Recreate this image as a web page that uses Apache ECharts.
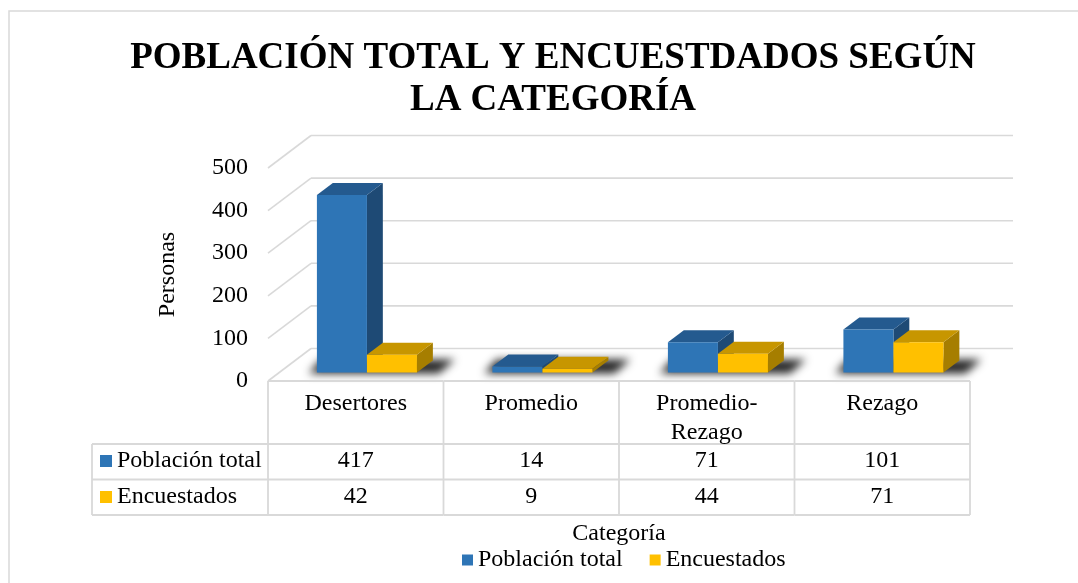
<!DOCTYPE html>
<html>
<head>
<meta charset="utf-8">
<script src="https://cdn.jsdelivr.net/npm/echarts@6/dist/echarts.min.js"></script>
<style>
html,body{margin:0;padding:0;background:#fff;}
#c{width:1078px;height:583px;}
</style>
</head>
<body>
<div id="c"></div>
<script>
const categories = ['Desertores', 'Promedio', 'Promedio-Rezago', 'Rezago'];
const poblacionTotal = [417, 14, 71, 101];
const encuestados = [42, 9, 44, 71];
const yTicks = [0, 100, 200, 300, 400, 500];
const seriesNames = ['Población total', 'Encuestados'];

const FONT = 'Liberation Serif';
const GRID_COLOR = '#D9D9D9';
const DEPTH = { dx: 43, dy: -32.5 };       // full floor depth
const BAR_FRONT = 0.26;                    // fraction of depth where bars start
const BAR_DEPTH = 0.37;                    // fraction of depth taken by bars
const BAR_W = 0.285;                       // bar width as fraction of band
const COLORS = {
  blue: { front: '#2E75B6', top: '#245A8F', side: '#1E4A75' },
  yellow: { front: '#FFC000', top: '#C79600', side: '#A67E00' }
};

const chart = echarts.init(document.getElementById('c'));

function barShape(api, catIdx, value, which, pal) {
  const band = api.size([1, 0])[0];
  const c0 = api.coord([catIdx, 0]);
  const c1 = api.coord([catIdx, value]);
  const ox = DEPTH.dx * BAR_FRONT, oy = DEPTH.dy * BAR_FRONT;
  const bdx = DEPTH.dx * BAR_DEPTH, bdy = DEPTH.dy * BAR_DEPTH;
  const w = band * BAR_W;
  const x0 = c0[0] + ox + (which === 0 ? -w : 0);
  const yB = c0[1] + oy;
  const yT = c1[1] + oy;
  return {
    type: 'group',
    children: [
      { type: 'polygon', shape: { points: [[x0 + w, yT], [x0 + w + bdx, yT + bdy], [x0 + w + bdx, yB + bdy], [x0 + w, yB]] }, style: { fill: pal.side } },
      { type: 'polygon', shape: { points: [[x0, yT], [x0 + w, yT], [x0 + w + bdx, yT + bdy], [x0 + bdx, yT + bdy]] }, style: { fill: pal.top } },
      { type: 'rect', shape: { x: x0, y: yT, width: w, height: yB - yT }, style: { fill: pal.front } }
    ]
  };
}

function shadowShape(api, catIdx) {
  const band = api.size([1, 0])[0];
  const c0 = api.coord([catIdx, 0]);
  const ox = DEPTH.dx * BAR_FRONT, oy = DEPTH.dy * BAR_FRONT;
  const bdx = DEPTH.dx * BAR_DEPTH, bdy = DEPTH.dy * BAR_DEPTH;
  const w = band * BAR_W;
  const xl = c0[0] + ox - w;
  const xr = c0[0] + ox + w;
  const yB = c0[1] + oy;
  const OFF = 3000;
  return {
    type: 'polygon',
    shape: { points: [[xl - 8 - OFF, yB + 1], [xr + bdx + 6 - OFF, yB + 1], [xr + bdx + 22 - OFF, yB + bdy - 1], [xl + 4 - OFF, yB + bdy - 1]] },
    style: { fill: '#000', shadowBlur: 9, shadowColor: 'rgba(0,0,0,0.85)', shadowOffsetX: OFF, shadowOffsetY: 0 }
  };
}

function wallShape(params, api) {
  const v = api.value(1);
  const band = api.size([1, 0])[0];
  const p = api.coord([0, v]);
  const xl = p[0] - band / 2;
  const xr = api.coord([categories.length - 1, v])[0] + band / 2;
  const y = p[1];
  return {
    type: 'group',
    children: [
      { type: 'line', shape: { x1: xl, y1: y, x2: xl + DEPTH.dx, y2: y + DEPTH.dy }, style: { stroke: GRID_COLOR, lineWidth: 1.6 } },
      { type: 'line', shape: { x1: xl + DEPTH.dx, y1: y + DEPTH.dy, x2: xr + DEPTH.dx, y2: y + DEPTH.dy }, style: { stroke: GRID_COLOR, lineWidth: 1.6 } }
    ]
  };
}

function tableShape(params, api) {
  const i = api.value(0);
  const band = api.size([1, 0])[0];
  const c = api.coord([i, 0]);
  const top = c[1];
  const xL = c[0] - band / 2, xR = c[0] + band / 2;
  const rowH = top + 63, row2 = top + 98.5, bottom = top + 134;
  const leftCol = 92;
  const lineStyle = { stroke: GRID_COLOR, lineWidth: 1.8 };
  const txt = (t, x, y, align, va) => ({ type: 'text', style: { text: t, x: x, y: y, align: align || 'center', verticalAlign: va || 'middle', font: '24px "' + FONT + '"', fill: '#000', lineHeight: 29 } });
  const ch = [
    { type: 'line', shape: { x1: xL, y1: top, x2: xR, y2: top }, style: lineStyle },
    { type: 'line', shape: { x1: xR, y1: top, x2: xR, y2: bottom }, style: lineStyle },
    { type: 'line', shape: { x1: xL, y1: rowH, x2: xR, y2: rowH }, style: lineStyle },
    { type: 'line', shape: { x1: xL, y1: row2, x2: xR, y2: row2 }, style: lineStyle },
    { type: 'line', shape: { x1: xL, y1: bottom, x2: xR, y2: bottom }, style: lineStyle },
    txt(categories[i].replace('-', '-\n'), c[0], top + 8, 'center', 'top'),
    txt(String(poblacionTotal[i]), c[0], top + 80),
    txt(String(encuestados[i]), c[0], top + 116)
  ];
  if (i === 0) {
    ch.push(
      { type: 'line', shape: { x1: xL, y1: top, x2: xL, y2: bottom }, style: lineStyle },
      { type: 'line', shape: { x1: leftCol, y1: rowH, x2: xL, y2: rowH }, style: lineStyle },
      { type: 'line', shape: { x1: leftCol, y1: row2, x2: xL, y2: row2 }, style: lineStyle },
      { type: 'line', shape: { x1: leftCol, y1: bottom, x2: xL, y2: bottom }, style: lineStyle },
      { type: 'line', shape: { x1: leftCol, y1: rowH, x2: leftCol, y2: bottom }, style: lineStyle },
      { type: 'rect', shape: { x: 100, y: top + 74, width: 12, height: 12 }, style: { fill: COLORS.blue.front } },
      txt(seriesNames[0], 117, top + 80, 'left'),
      { type: 'rect', shape: { x: 100, y: top + 110, width: 12, height: 12 }, style: { fill: COLORS.yellow.front } },
      txt(seriesNames[1], 117, top + 116, 'left')
    );
  }
  return { type: 'group', children: ch };
}

const option = {
  animation: false,
  backgroundColor: '#fff',
  title: {
    text: 'POBLACIÓN TOTAL Y ENCUESTDADOS SEGÚN\nLA CATEGORÍA',
    left: 548, top: 32, textAlign: 'center',
    textStyle: { fontFamily: FONT, fontWeight: 'bold', fontSize: 37, lineHeight: 42, color: '#000' }
  },
  legend: {
    data: seriesNames,
    left: 457, top: 543,
    icon: 'rect', itemWidth: 11, itemHeight: 11, itemGap: 27,
    textStyle: { fontFamily: FONT, fontSize: 24, color: '#000' }
  },
  graphic: [
    { type: 'rect', shape: { x: 9, y: 11, width: 1100, height: 620 }, style: { fill: 'none', stroke: GRID_COLOR, lineWidth: 1.5 }, z: 0 }
  ],
  grid: { left: 268, right: 108, top: 168, bottom: 202 },
  xAxis: {
    type: 'category', data: categories,
    axisLine: { show: false }, axisTick: { show: false }, axisLabel: { show: false },
    name: 'Categoría', nameLocation: 'middle', nameGap: 141,
    nameTextStyle: { fontFamily: FONT, fontSize: 24, color: '#000', verticalAlign: 'top' }
  },
  yAxis: {
    type: 'value', min: 0, max: 500, interval: 100,
    axisLine: { show: false }, axisTick: { show: false }, splitLine: { show: false },
    axisLabel: { fontFamily: FONT, fontSize: 24, color: '#000', margin: 20 },
    name: 'Personas', nameLocation: 'middle', nameRotate: 90, nameGap: 88,
    nameTextStyle: { fontFamily: FONT, fontSize: 24, color: '#000' }
  },
  series: [
    { type: 'custom', name: 'walls', z: 1, silent: true, data: yTicks.map(v => [0, v]), encode: { x: 0, y: 1 }, renderItem: wallShape },
    { type: 'custom', name: 'shadows', z: 2, silent: true, data: categories.map((c, i) => [i, 0]), encode: { x: 0, y: 1 },
      renderItem: (params, api) => shadowShape(api, api.value(0)) },
    { type: 'custom', name: seriesNames[0], z: 3, itemStyle: { color: COLORS.blue.front },
      data: poblacionTotal.map((v, i) => [i, v]), encode: { x: 0, y: 1 },
      renderItem: (params, api) => barShape(api, api.value(0), api.value(1), 0, COLORS.blue) },
    { type: 'custom', name: seriesNames[1], z: 4, itemStyle: { color: COLORS.yellow.front },
      data: encuestados.map((v, i) => [i, v]), encode: { x: 0, y: 1 },
      renderItem: (params, api) => barShape(api, api.value(0), api.value(1), 1, COLORS.yellow) },
    { type: 'custom', name: 'table', z: 5, silent: true, data: categories.map((c, i) => [i, 0]), encode: { x: 0, y: 1 }, renderItem: tableShape }
  ]
};
chart.setOption(option);
</script>
</body>
</html>
